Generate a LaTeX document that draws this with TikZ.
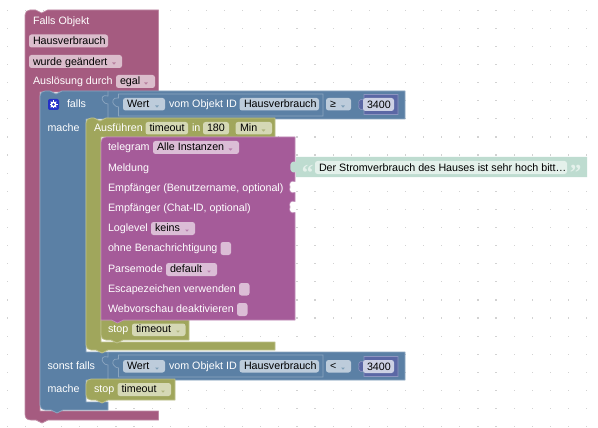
\documentclass[tikz,border=0pt]{standalone}
\usepackage{fontspec}
\setmainfont{Liberation Sans}
\newfontfamily\quotefont{Liberation Serif}
\definecolor{cPur}{HTML}{A55B80}\definecolor{cPurL}{HTML}{C08CA6}\definecolor{cPurF}{HTML}{DBBDCC}\definecolor{cPurA}{HTML}{B880A0}
\definecolor{cBlu}{HTML}{5B80A5}\definecolor{cBluL}{HTML}{8CA6C0}\definecolor{cBluF}{HTML}{BDCCDB}\definecolor{cBluA}{HTML}{80A0B8}
\definecolor{cGrn}{HTML}{A0A65C}\definecolor{cGrnL}{HTML}{BDC08C}\definecolor{cGrnF}{HTML}{D5D8B5}\definecolor{cGrnA}{HTML}{B0B580}
\definecolor{cTel}{HTML}{A55B99}\definecolor{cTelL}{HTML}{C08CB8}\definecolor{cTelF}{HTML}{DBBDD6}\definecolor{cTelA}{HTML}{B880AE}
\definecolor{cVal}{HTML}{5B67A5}\definecolor{cValL}{HTML}{8C95C0}\definecolor{cValF}{HTML}{CDD1E4}
\definecolor{cStr}{HTML}{BEDCD0}\definecolor{cStrF}{HTML}{E4F1EB}
\definecolor{cDot}{HTML}{D2D2D2}\definecolor{cGear}{HTML}{2430C8}
\tikzset{
  txt/.style={anchor=base west,inner sep=0pt,outer sep=0pt,font=\fontsize{10.7}{12}\selectfont},
  lab/.style={txt,text=white},
  val/.style={txt,text=black},
  blockshape/.style={line width=0.7pt,line join=round},
  fieldbox/.style={rounded corners=2.5pt,draw=none},
  quotemark/.style={anchor=center,inner sep=0pt,text=cStrF,font=\quotefont\bfseries\fontsize{23}{23}\selectfont}
}
\newcommand{\bumpR}[2]{-- (#1,#2) .. controls (#1+3,#2) and (#1+3,#2+3) .. (#1+6,#2+3) .. controls (#1+9,#2+3) and (#1+9,#2) .. (#1+12,#2)}
\newcommand{\bumpL}[2]{-- (#1+12,#2) .. controls (#1+9,#2) and (#1+9,#2+3) .. (#1+6,#2+3) .. controls (#1+3,#2+3) and (#1+3,#2) .. (#1,#2)}
\newcommand{\lab}[4]{\node[lab] (#1) at (#2,#3+3.9) {#4};}
\newcommand{\val}[4]{\node[val] (#1) at (#2,#3+3.9) {#4};}
\newcommand{\field}[5]{\fill[#1,fieldbox] (#2,#3) rectangle (#4,#5);}
\newcommand{\drop}[3]{\fill[#1] (#2-1.9,#3+1) -- (#2+1.9,#3+1) -- (#2,#3+3.2) -- cycle;}
\begin{document}
\begin{tikzpicture}[x=1pt,y=-1pt]
\useasboundingbox (0,0) rectangle (598,428);
\fill[white] (0,0) rectangle (598,428);
% grid
\foreach \i in {0,...,32}{\foreach \j in {0,...,23}{
  \fill[cDot] ({7.3+18.1*\i-0.6},{10.3+18.1*\j-0.6}) rectangle ++(1.2,1.2);
}}
% hat block
\fill[cPur,draw=cPurL,blockshape] (25,15) .. controls (25,12) and (27,10) .. (30,10)
  \bumpR{35.6}{10} -- (158.5,10) -- (158.5,92) -- (40,92) -- (40,411) -- (158.5,411) -- (158.5,420)
  \bumpL{36}{420} -- (31,420) .. controls (27,420) and (25,418) .. (25,414) -- cycle;
% if block
\fill[cBlu,draw=cBluL,blockshape] (40,96) .. controls (40,93) and (42,91) .. (45,91)
  \bumpR{50}{91} -- (405,91) -- (405,119) -- (86,119) -- (86,352) -- (405,352) -- (405,380) -- (86,380) -- (86,402) -- (108,402) -- (108,410)
  \bumpL{51}{410} -- (45,410) .. controls (42,410) and (40,408) .. (40,405) -- cycle;
% sockets in the blue rows
\foreach \yy in {91,352}{
  \draw[cBluL,line width=0.7pt] (108,\yy) -- (108,\yy+5) .. controls (102,\yy+3) and (101,\yy+8) .. (103,\yy+10) .. controls (104,\yy+12) and (106,\yy+13) .. (108,\yy+13) -- (108,\yy+27);
  \draw[cBluL,line width=0.7pt] (118.5,\yy+3) -- (118.5,\yy+7) .. controls (112.5,\yy+6) and (112,\yy+11) .. (113.5,\yy+13) .. controls (115,\yy+15) and (117,\yy+16) .. (118.5,\yy+16) -- (118.5,\yy+25) -- (323,\yy+25) -- (323,\yy+3) -- cycle;
}
% exec block (green)
\fill[cGrn,draw=cGrnL,blockshape] (86,123) .. controls (86,120) and (88,118) .. (91,118)
  \bumpR{94}{118} -- (275,118) -- (275,137) -- (101,137) -- (101,342) -- (275,342) -- (275,350)
  \bumpL{96}{350} -- (91,350) .. controls (88,350) and (86,348) .. (86,345) -- cycle;
% inner stop
\fill[cGrn,draw=cGrnL,blockshape] (101,320) -- (189,320) -- (189,340)
  \bumpL{111}{340} -- (106,340) .. controls (103,340) and (101,338) .. (101,335) -- cycle;
% telegram
\fill[cTel,draw=cTelL,blockshape] (101,142) .. controls (101,139) and (103,137) .. (106,137) -- (295,137)
  -- (295,181.5) .. controls (290.5,179.5) and (288.5,184) .. (290,187) .. controls (288.5,190) and (290.5,194.5) .. (295,192.5)
  -- (295,201.5) .. controls (290.5,199.5) and (288.5,204) .. (290,207) .. controls (288.5,210) and (290.5,214.5) .. (295,212.5)
  -- (295,320) \bumpL{111.5}{320} -- (101,320) -- cycle;
% string block
\fill[cStr] (296,157) -- (587,157) -- (587,177) -- (296,177) -- (296,172) .. controls (292,174) and (289.5,170) .. (290.5,167) .. controls (289.5,164) and (292,160) .. (296,162) -- cycle;
\node[quotemark] (qopen) at (307.5,173) {“};
\node[quotemark] (qclose) at (575.5,173) {”};
\field{cStrF}{315}{161}{567}{174}
\val{strtext}{319}{167.3}{Der Stromverbrauch des Hauses ist sehr hoch bitt…}
% second stop
\fill[cGrn,draw=cGrnL,blockshape] (86,384) .. controls (86,381) and (88,379) .. (91,379) -- (175,379) -- (175,400)
  \bumpL{96}{400} -- (91,400) .. controls (88,400) and (86,398) .. (86,395) -- cycle;
% hat texts
\lab{tFalls}{33}{21}{Falls Objekt}
\field{cPurF}{29}{34.5}{108}{47.5}
\val{tHaus}{33}{41}{Hausverbrauch}
\field{cPurF}{29}{55}{122}{68}
\val{tWurde}{33}{61.5}{wurde geändert}
\drop{cPurA}{114}{61.5}
\lab{tAusl}{33}{81}{Auslösung durch}
\field{cPurF}{116}{75}{155}{88}
\val{tEgal}{120}{81}{egal}
\drop{cPurA}{146}{81.5}
% gear
\fill[cGear,rounded corners=2pt] (48,99) rectangle (59,110);
\foreach \a in {0,45,...,315}{\draw[white,line width=1pt] (53.5,104.5) -- ++(\a:4);}
\fill[white] (53.5,104.5) circle[radius=3];
\fill[cGear] (53.5,104.5) circle[radius=1.4];
\lab{tIf}{67}{104}{falls}
\lab{tDo}{47.5}{128}{mache}
% first condition
\field{cBluF}{123}{98}{165}{110.5}
\val{tW1}{127}{104}{Wert}
\drop{cBluA}{157}{104.5}
\lab{tV1}{169}{104}{vom Objekt ID}
\field{cBluF}{239.5}{98}{319}{110.5}
\val{tH1}{244}{104}{Hausverbrauch}
\field{cBluF}{326}{98}{351}{110.5}
\val{tOp1}{330}{104}{≥}
\drop{cBluA}{343}{104.5}
\fill[cVal,draw=cValL,line width=0.6pt] (364,94.5) -- (398,94.5) -- (398,114.5) -- (364,114.5) -- (364,109) .. controls (359,111) and (358,107) .. (359,104.5) .. controls (358,102) and (359,98) .. (364,100) -- cycle;
\field{cValF}{363}{98}{394}{111}
\val{tN1}{367}{104.5}{3400}
% exec texts
\lab{tExec}{94}{128}{Ausführen}
\field{cGrnF}{145.5}{122}{188}{134.5}
\val{tT1}{149.5}{128}{timeout}
\lab{tIn}{192}{128}{in}
\field{cGrnF}{203}{122}{229}{134.5}
\val{tMin1}{207}{128}{180}
\field{cGrnF}{235.5}{122}{272}{134.5}
\val{tMin2}{240}{128}{Min}
\drop{cGrnA}{263.5}{128.5}
% telegram texts
\lab{tTel}{108}{147}{telegram}
\field{cTelF}{153}{141}{239}{154}
\val{tAll}{157}{147}{Alle Instanzen}
\drop{cTelA}{230.5}{147.5}
\lab{tMel}{108}{167.3}{Meldung}
\lab{tEmp1}{108}{188}{Empfänger (Benutzername, optional)}
\lab{tEmp2}{108}{208}{Empfänger (Chat-ID, optional)}
\lab{tLog}{108}{228}{Loglevel}
\field{cTelF}{151}{222}{195}{235}
\val{tKeins}{155}{228}{keins}
\drop{cTelA}{187}{228.5}
\lab{tOhne}{108}{248}{ohne Benachrichtigung}
\field{cTelF}{220.5}{242}{231}{255}
\lab{tPars}{108}{269}{Parsemode}
\field{cTelF}{166}{263}{217}{276}
\val{tDef}{170}{269}{default}
\drop{cTelA}{209}{269.5}
\lab{tEsc}{108}{289}{Escapezeichen verwenden}
\field{cTelF}{239}{283}{249.5}{295.5}
\lab{tWeb}{108}{309}{Webvorschau deaktivieren}
\field{cTelF}{237}{303}{247.5}{316}
% stop texts
\lab{tStop1}{108}{329}{stop}
\field{cGrnF}{132}{323.5}{185.5}{336}
\val{tT2}{136}{329}{timeout}
\drop{cGrnA}{178}{329.5}
% second condition
\lab{tElse}{47.5}{366}{sonst falls}
\lab{tDo2}{47.5}{389}{mache}
\field{cBluF}{123}{360}{165}{372.5}
\val{tW2}{127}{366}{Wert}
\drop{cBluA}{157}{366.5}
\lab{tV2}{169}{366}{vom Objekt ID}
\field{cBluF}{239.5}{360}{319}{372.5}
\val{tH2}{244}{366}{Hausverbrauch}
\field{cBluF}{326}{360}{351}{372.5}
\val{tOp2}{330}{366}{<}
\drop{cBluA}{343}{366.5}
\fill[cVal,draw=cValL,line width=0.6pt] (364,356.5) -- (398,356.5) -- (398,376.5) -- (364,376.5) -- (364,371) .. controls (359,373) and (358,369) .. (359,366.5) .. controls (358,364) and (359,360) .. (364,362) -- cycle;
\field{cValF}{363}{360}{394}{373}
\val{tN2}{367}{366.5}{3400}
% second stop texts
\lab{tStop2}{94}{389}{stop}
\field{cGrnF}{117.5}{383}{171}{396}
\val{tT3}{121.5}{389}{timeout}
\drop{cGrnA}{163}{389.5}
\end{tikzpicture}
\end{document}
